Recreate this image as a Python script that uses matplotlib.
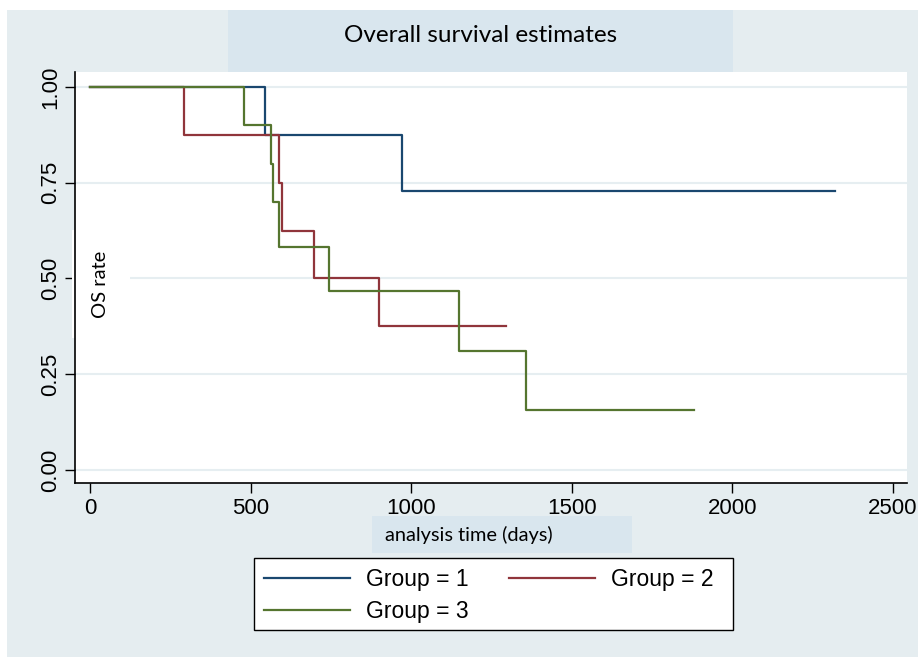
import matplotlib
matplotlib.use('Agg')
import matplotlib.pyplot as plt
from matplotlib.patches import Rectangle
from matplotlib.transforms import blended_transform_factory, IdentityTransform

# Kaplan-Meier step data
g1_time = [0, 544, 971, 2318]
g1_surv = [1.0, 0.875, 0.729, 0.729]
g2_time = [0, 292, 588, 599, 698, 900, 1294]
g2_surv = [1.0, 0.875, 0.75, 0.625, 0.5, 0.375, 0.375]
g3_time = [0, 480, 565, 569, 587, 745, 1149, 1358, 1882]
g3_surv = [1.0, 0.9, 0.8, 0.7, 0.583, 0.467, 0.311, 0.156, 0.156]

group_labels = ['Group = 1', 'Group = 2', 'Group = 3']
group_colors = ['#1a476f', '#90353b', '#55752f']
x_ticks = [0, 500, 1000, 1500, 2000, 2500]
y_ticks = [0.0, 0.25, 0.5, 0.75, 1.0]

W, H = 918, 657
bg = '#e5edf0'
box = '#d9e6ee'
num_font = 'Liberation Sans'
txt_font = 'Lato'


def fig_rect(x0, y0, x1, y1):
    # pixel box (top-left origin) -> figure fraction rectangle
    return (x0 / W, 1 - y1 / H, (x1 - x0) / W, (y1 - y0) / H)


def add_box(px, fc, ec='none', lw=0, z=-9):
    x0, y0, w, h = fig_rect(*px)
    fig.patches.append(Rectangle((x0, y0), w, h, transform=fig.transFigure,
                                 facecolor=fc, edgecolor=ec, lw=lw, zorder=z))


fig = plt.figure(figsize=(W / 100, H / 100), dpi=100)
fig.patch.set_facecolor('white')

add_box((7, 10, 918, 657), bg, z=-10)
add_box((228, 10, 733, 72), box)
add_box((372, 516, 632, 553), box)
add_box((254, 558, 733, 630), 'white', ec='black', lw=1.0)

ax = fig.add_axes(fig_rect(75, 72, 907, 483))
ax.set_facecolor('white')

lines = []
for t, s, c, lab in zip([g1_time, g2_time, g3_time], [g1_surv, g2_surv, g3_surv],
                        group_colors, group_labels):
    ln, = ax.step(t, s, where='post', color=c, lw=1.6, label=lab, zorder=3)
    lines.append(ln)

ax.set_xlim(-46.7, 2543.6)
ax.set_ylim(-0.034, 1.039)
ax.set_xticks(x_ticks)
ax.set_yticks(y_ticks)
ax.set_xticklabels([str(v) for v in x_ticks], fontsize=16, family=num_font)
ax.set_yticklabels(['%.2f' % v for v in y_ticks], fontsize=16, family=num_font,
                   rotation=90, va='center')
ax.tick_params(axis='x', length=7, width=1, pad=4)
ax.tick_params(axis='y', length=7, width=1, pad=3)

ax.set_axisbelow(True)
ax.grid(axis='y', color='#e6eef1', lw=1.5)
for side in ['top', 'right']:
    ax.spines[side].set_visible(False)
for side in ['left', 'bottom']:
    ax.spines[side].set_linewidth(1.2)
    ax.spines[side].set_zorder(4)

# y axis label sits inside the plot region, blanking the grid behind it
ax.text(101, 0.485, 'OS rate',
        transform=blended_transform_factory(IdentityTransform(), ax.transData),
        rotation=90, ha='center', va='center', fontsize=14.5, family=txt_font,
        bbox=dict(boxstyle='square,pad=1.0', fc='white', ec='none'), zorder=1)

fig.text(481 / W, 1 - 36 / H, 'Overall survival estimates', ha='center', va='center',
         fontsize=17.5, family=txt_font)
fig.text(469 / W, 1 - 535 / H, 'analysis time (days)', ha='center', va='center',
         fontsize=14.4, family=txt_font)

order = [0, 2, 1]
leg = fig.legend([lines[i] for i in order], [group_labels[i] for i in order],
                 ncol=2, loc='upper left', bbox_to_anchor=(254 / W, 1 - 558 / H),
                 prop={'family': num_font, 'size': 16.5}, frameon=False,
                 handlelength=3.75, handletextpad=0.7, columnspacing=1.75,
                 labelspacing=0.4, borderpad=0.45, borderaxespad=0)
for lh in leg.get_lines():
    lh.set_linewidth(1.6)

fig.savefig('out.png', dpi=100)
